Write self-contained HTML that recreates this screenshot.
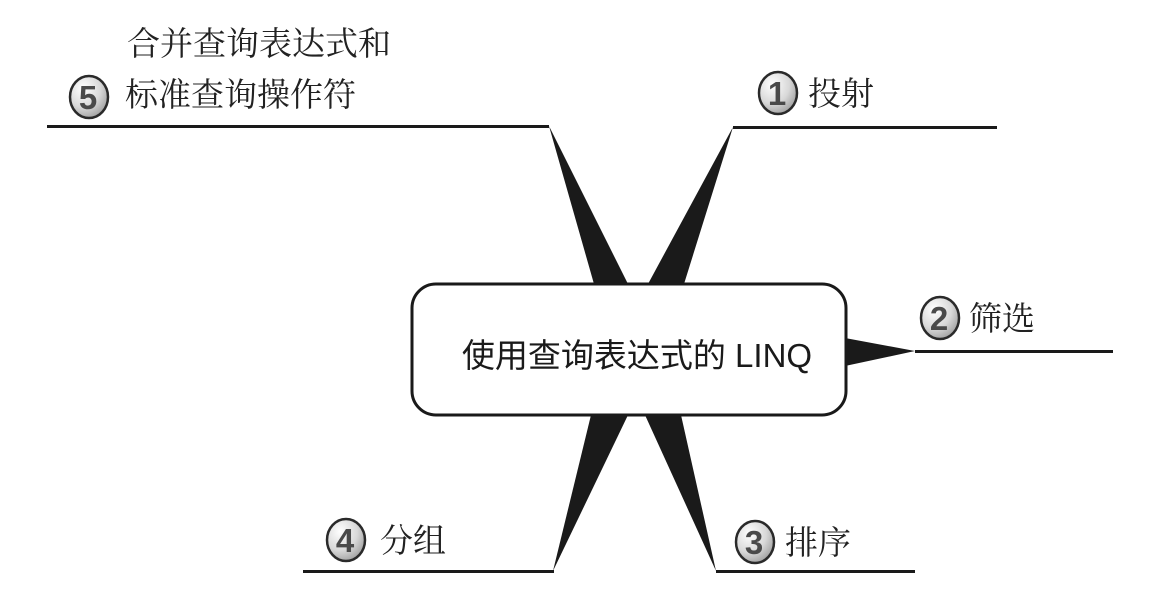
<!DOCTYPE html>
<html><head><meta charset="utf-8"><style>
html,body{margin:0;padding:0;background:#fff;}
svg{display:block;}
.lbl{font-family:"Liberation Serif","Noto Serif CJK SC",serif;font-size:33px;fill:#222;}
.num{font-family:"Liberation Sans",sans-serif;font-weight:bold;font-size:33px;fill:#4a4a4a;}
</style></head><body>
<svg width="1152" height="597" viewBox="0 0 1152 597" xmlns="http://www.w3.org/2000/svg">
<defs>
<radialGradient id="g" cx="35%" cy="30%" r="75%">
<stop offset="0" stop-color="#ffffff"/><stop offset="0.6" stop-color="#d8d8d8"/><stop offset="1" stop-color="#a0a0a0"/>
</radialGradient>
</defs>
<g fill="#1a1a1a">
<polygon points="549,126 594,284 628,284"/>
<polygon points="733,127 648,284 684,284"/>
<polygon points="553,571 591,415 628,415"/>
<polygon points="716,571 645,415 681,415"/>
<polygon points="915,351 845,338 845,366"/>
</g>
<g stroke="#1a1a1a" stroke-width="3">
<line x1="47" y1="126.5" x2="549" y2="126.5"/>
<line x1="733" y1="127.5" x2="997" y2="127.5"/>
<line x1="915" y1="351.5" x2="1113" y2="351.5"/>
<line x1="303" y1="571.5" x2="554" y2="571.5"/>
<line x1="716" y1="571.5" x2="915" y2="571.5"/>
</g>
<rect x="412" y="284" width="434" height="131" rx="24" fill="#fff" stroke="#1a1a1a" stroke-width="3"/>
<text x="637" y="367" text-anchor="middle" style="font-family:'Liberation Sans','Noto Sans CJK SC',sans-serif;font-size:33px;fill:#1a1a1a">使用查询表达式的 LINQ</text>
<g stroke="#2a2a2a" stroke-width="2.5" fill="url(#g)">
<ellipse cx="778" cy="93" rx="19" ry="21"/>
<ellipse cx="940" cy="318" rx="19" ry="21"/>
<ellipse cx="755" cy="542" rx="19" ry="21"/>
<ellipse cx="346" cy="540" rx="19" ry="21"/>
<ellipse cx="89" cy="97" rx="19" ry="21"/>
</g>
<g text-anchor="middle">
<text x="777" y="105" class="num">1</text>
<text x="939" y="330" class="num">2</text>
<text x="754" y="554" class="num">3</text>
<text x="345" y="552" class="num">4</text>
<text x="88" y="109" class="num">5</text>
</g>
<text x="808" y="105" class="lbl">投射</text>
<text x="969" y="330" class="lbl">筛选</text>
<text x="785" y="554" class="lbl">排序</text>
<text x="380" y="552" class="lbl">分组</text>
<text x="127" y="55" class="lbl">合并查询表达式和</text>
<text x="125" y="106" class="lbl">标准查询操作符</text>
</svg>
</body></html>
